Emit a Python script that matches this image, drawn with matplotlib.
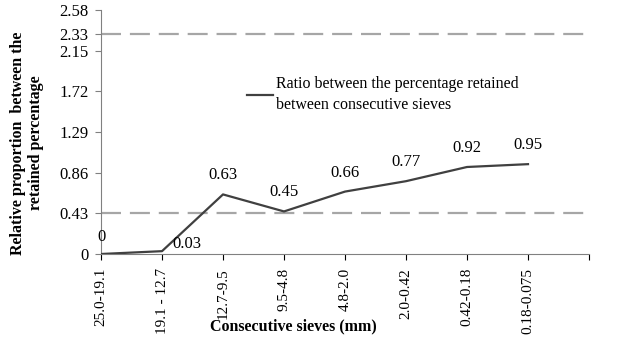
import matplotlib.pyplot as plt

sieves = ['25.0-19.1', '19.1 - 12.7', '12.7-9.5', '9.5-4.8', '4.8-2.0',
          '2.0-0.42', '0.42-0.18', '0.18-0.075']
ratio = [0, 0.03, 0.63, 0.45, 0.66, 0.77, 0.92, 0.95]
value_labels = ['0', '0.03', '0.63', '0.45', '0.66', '0.77', '0.92', '0.95']
yticks = [0, 0.43, 0.86, 1.29, 1.72, 2.15, 2.33, 2.58]
limits = [0.43, 2.33]

plt.rcParams['font.family'] = ['Liberation Serif', 'DejaVu Serif']

fig = plt.figure(figsize=(6.18, 3.38), dpi=100)
ax = fig.add_axes([101 / 618, 1 - 254 / 338, 488 / 618, 244 / 338])

x = list(range(len(sieves)))
for lim in limits:
    ax.axhline(lim, color='#a6a6a6', lw=1.6, dashes=(9, 4), zorder=1)

line, = ax.plot(x, ratio, color='#404040', lw=1.6, zorder=3,
                label='Ratio between the percentage retained\nbetween consecutive sieves')

for i, (v, t) in enumerate(zip(ratio, value_labels)):
    if i == 1:
        off = (25, 7)
    elif i == 0:
        off = (0, 17)
    else:
        off = (0, 19)
    ax.annotate(t, (i, v), xytext=off, textcoords='offset pixels',
                ha='center', va='center', fontsize=12)

ax.set_xlim(0, len(sieves))
ax.set_ylim(0, 2.58)
ax.set_yticks(yticks)
ax.set_yticklabels([('%g' % t) if t != 0 else '0' for t in yticks])
ax.set_xticks(range(len(sieves) + 1))
ax.set_xticklabels(sieves + [''], rotation=90)
ax.tick_params(axis='both', colors='black', length=4, width=0.8)
ax.tick_params(axis='y', labelsize=12, colors='#808080', labelcolor='black', pad=5)
ax.tick_params(axis='x', labelsize=11, pad=6)
for s in ['top', 'right']:
    ax.spines[s].set_visible(False)
ax.spines['left'].set_color('#808080')
ax.spines['bottom'].set_color('#808080')

leg = ax.legend(handles=[line], loc='upper left', bbox_to_anchor=(146 / 488, 178 / 244),
                frameon=False, fontsize=11.5, handlelength=1.6, handletextpad=0.2,
                borderaxespad=0, borderpad=0)
for t in leg.get_texts():
    t.set_linespacing(1.45)

fig.text(27 / 618, 1 - 143 / 338, 'Relative proportion  between the\nretained percentage',
         rotation=90, ha='center', va='center', fontsize=11.5, fontweight='bold',
         linespacing=1.2)
fig.text(293 / 618, 1 - 326 / 338, 'Consecutive sieves (mm)', ha='center', va='center',
         fontsize=11.5, fontweight='bold')

fig.savefig('out.png', dpi=100)
